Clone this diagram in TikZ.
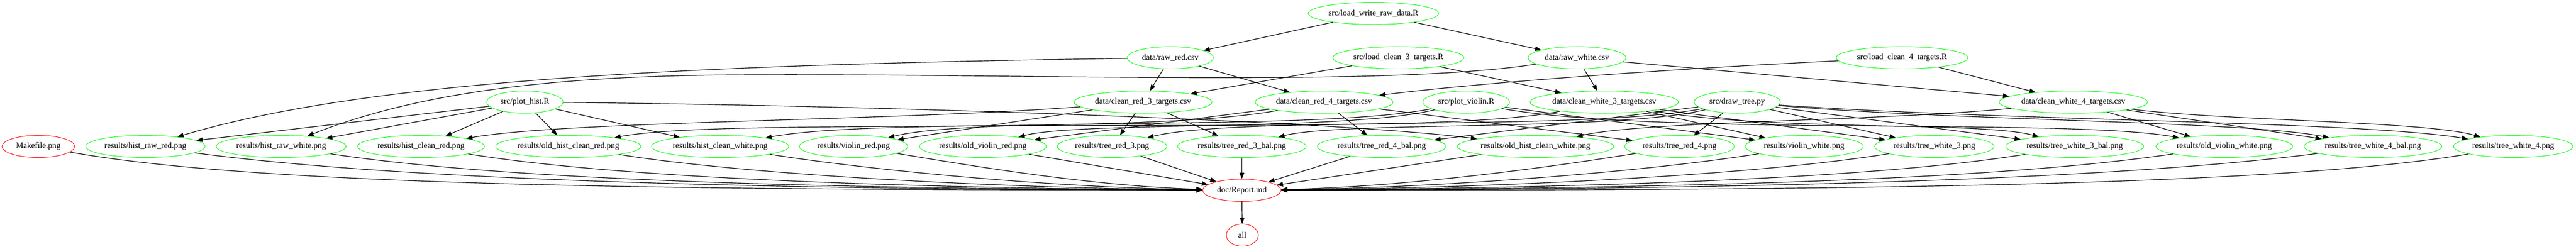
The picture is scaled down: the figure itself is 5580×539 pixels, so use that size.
\documentclass[tikz,border=0pt]{standalone}
\usepackage{fontspec}
\setmainfont{Liberation Serif}
\usetikzlibrary{arrows.meta,shapes.geometric}
\definecolor{gvgreen}{RGB}{0,255,0}
\definecolor{gvred}{RGB}{255,0,0}
\begin{document}
\begin{tikzpicture}[x=0.75pt,y=-0.75pt,
  gv/.style={ellipse, line width=0.8pt, inner sep=0pt, minimum height=36pt, font=\fontsize{13.5pt}{16pt}\selectfont},
  gn/.style={gv, draw=gvgreen},
  rn/.style={gv, draw=gvred},
  e/.style={-{Triangle[length=10pt,width=7.5pt]}, line width=1pt, black}]
\useasboundingbox (0,0) rectangle (5580,539);
% row 0
\node[gn, minimum width=212pt] (lwr) at (2975,29) {src/load\_write\_raw\_data.R};
% row 1
\node[gn, minimum width=140pt] (rawr) at (2535,125) {data/raw\_red.csv};
\node[gn, minimum width=213pt] (lc3) at (3029,125) {src/load\_clean\_3\_targets.R};
\node[gn, minimum width=159pt] (raww) at (3416,125) {data/raw\_white.csv};
\node[gn, minimum width=214pt] (lc4) at (4120,125) {src/load\_clean\_4\_targets.R};
% row 2
\node[gn, minimum width=124pt] (ph) at (1137,221) {src/plot\_hist.R};
\node[gn, minimum width=224pt] (cr3) at (2476,221) {data/clean\_red\_3\_targets.csv};
\node[gn, minimum width=224pt] (cr4) at (2868,221) {data/clean\_red\_4\_targets.csv};
\node[gn, minimum width=141pt] (pv) at (3176,221) {src/plot\_violin.R};
\node[gn, minimum width=241pt] (cw3) at (3475,221) {data/clean\_white\_3\_targets.csv};
\node[gn, minimum width=140pt] (dt) at (3763,221) {src/draw\_tree.py};
\node[gn, minimum width=241pt] (cw4) at (4491,221) {data/clean\_white\_4\_targets.csv};
% row 3
\node[rn, minimum width=118pt] (mk) at (83,317) {Makefile.png};
\node[gn, minimum width=194pt] (hrr) at (315,317) {results/hist\_raw\_red.png};
\node[gn, minimum width=211pt] (hrw) at (609,317) {results/hist\_raw\_white.png};
\node[gn, minimum width=206pt] (hcr) at (912,317) {results/hist\_clean\_red.png};
\node[gn, minimum width=236pt] (ohcr) at (1231,317) {results/old\_hist\_clean\_red.png};
\node[gn, minimum width=223pt] (hcw) at (1560,317) {results/hist\_clean\_white.png};
\node[gn, minimum width=176pt] (vr) at (1849,317) {results/violin\_red.png};
\node[gn, minimum width=206pt] (ovr) at (2129,317) {results/old\_violin\_red.png};
\node[gn, minimum width=178pt] (tr3) at (2409,317) {results/tree\_red\_3.png};
\node[gn, minimum width=209pt] (tr3b) at (2690,317) {results/tree\_red\_3\_bal.png};
\node[gn, minimum width=209pt] (tr4b) at (2993,317) {results/tree\_red\_4\_bal.png};
\node[gn, minimum width=254pt] (ohcw) at (3326,317) {results/old\_hist\_clean\_white.png};
\node[gn, minimum width=178pt] (tr4) at (3638,317) {results/tree\_red\_4.png};
\node[gn, minimum width=192pt] (vw) at (3908,317) {results/violin\_white.png};
\node[gn, minimum width=194pt] (tw3) at (4190,317) {results/tree\_white\_3.png};
\node[gn, minimum width=224pt] (tw3b) at (4494,317) {results/tree\_white\_3\_bal.png};
\node[gn, minimum width=222pt] (ovw) at (4818,317) {results/old\_violin\_white.png};
\node[gn, minimum width=224pt] (tw4b) at (5140,317) {results/tree\_white\_4\_bal.png};
\node[gn, minimum width=194pt] (tw4) at (5444,317) {results/tree\_white\_4.png};
% row 4, 5
\node[rn, minimum width=127pt] (rep) at (2690,412) {doc/Report.md};
\node[rn, minimum width=52pt] (all) at (2691,509) {all};

% row 0 -> 1
\draw[e] (lwr) -- (rawr);
\draw[e] (lwr) -- (raww);
% row 1 -> 2
\draw[e] (rawr) -- (cr3);
\draw[e] (rawr) -- (cr4);
\draw[e] (lc3) -- (cr3);
\draw[e] (lc3) -- (cw3);
\draw[e] (raww) -- (cw3);
\draw[e] (raww) -- (cw4);
\draw[e] (lc4) .. controls (3600,150) and (3200,180) .. (cr4);
\draw[e] (lc4) -- (cw4);
% row 1 -> 3
\draw[e] (rawr) .. controls (1500,140) and (800,172) .. (hrr);
\coordinate (rwmid) at (1600,162);
\draw[e] (raww) .. controls (3000,190) and (2200,158) .. (rwmid) .. controls (1250,164) and (930,190) .. (hrw);
% row 2 -> 3
\draw[e] (ph) -- (hrr);
\draw[e] (ph) -- (hrw);
\draw[e] (ph) -- (hcr);
\draw[e] (ph) -- (ohcr);
\draw[e] (ph) -- (hcw);
\draw[e] (ph) .. controls (1900,228) and (2900,262) .. (ohcw);
\draw[e] (pv) .. controls (2844,285) and (2114,250) .. (vr);
\draw[e] (pv) .. controls (2914,285) and (2338,262) .. (ovr);
\draw[e] (pv) -- (vw);
\draw[e] (pv) .. controls (3586,295) and (4490,255) .. (ovw);
\draw[e] (dt) .. controls (3425,285) and (2680,250) .. (tr3);
\draw[e] (dt) .. controls (3495,285) and (2905,262) .. (tr3b);
\draw[e] (dt) -- (tr4b);
\draw[e] (dt) -- (tr4);
\draw[e] (dt) -- (tw3);
\draw[e] (dt) -- (tw3b);
\draw[e] (dt) .. controls (4245,262) and (4865,262) .. (tw4b);
\draw[e] (dt) .. controls (4351,262) and (5108,262) .. (tw4);
\draw[e] (cr3) .. controls (1929,262) and (1225,262) .. (hcr);
\draw[e] (cr3) -- (vr);
\draw[e] (cr3) -- (tr3);
\draw[e] (cr3) -- (tr3b);
\draw[e] (cr4) .. controls (2459,295) and (1558,255) .. (ohcr);
\draw[e] (cr4) -- (ovr);
\draw[e] (cr4) -- (tr4b);
\draw[e] (cr4) -- (tr4);
\draw[e] (cw3) .. controls (3092,300) and (1943,245) .. (hcw);
\draw[e] (cw3) -- (vw);
\draw[e] (cw3) -- (tw3);
\draw[e] (cw3) .. controls (3832,285) and (4290,262) .. (tw3b);
\draw[e] (cw4) .. controls (4083,262) and (3559,262) .. (ohcw);
\draw[e] (cw4) -- (ovw);
\draw[e] (cw4) -- (tw4b);
\draw[e] (cw4) .. controls (4825,262) and (5253,262) .. (tw4);
% row 3 -> 4
\draw[e] (mk) .. controls (604,410) and (1647,410) .. (rep);
\draw[e] (hrr) .. controls (909,395) and (1740,410) .. (rep);
\draw[e] (hrw) .. controls (1129,395) and (1858,408) .. (rep);
\draw[e] (hcr) .. controls (1357,388) and (1979,407) .. (rep);
\draw[e] (ohcr) .. controls (1596,375) and (2106,406) .. (rep);
\draw[e] (hcw) .. controls (1843,362) and (2238,405) .. (rep);
\draw[e] (vr) .. controls (2059,351) and (2354,403) .. (rep);
\draw[e] (ovr) -- (rep);
\draw[e] (tr3) -- (rep);
\draw[e] (tr3b) -- (rep);
\draw[e] (tr4b) -- (rep);
\draw[e] (ohcw) -- (rep);
\draw[e] (tr4) .. controls (3401,355) and (3069,404) .. (rep);
\draw[e] (vw) .. controls (3603,366) and (3177,405) .. (rep);
\draw[e] (tw3) .. controls (3815,377) and (3290,406) .. (rep);
\draw[e] (tw3b) .. controls (4043,389) and (3412,407) .. (rep);
\draw[e] (ovw) .. controls (4286,395) and (3541,408) .. (rep);
\draw[e] (tw4b) .. controls (4528,395) and (3670,410) .. (rep);
\draw[e] (tw4) .. controls (4893,410) and (3792,411) .. (rep);
% row 4 -> 5
\draw[e] (rep) -- (all);
\end{tikzpicture}
\end{document}
